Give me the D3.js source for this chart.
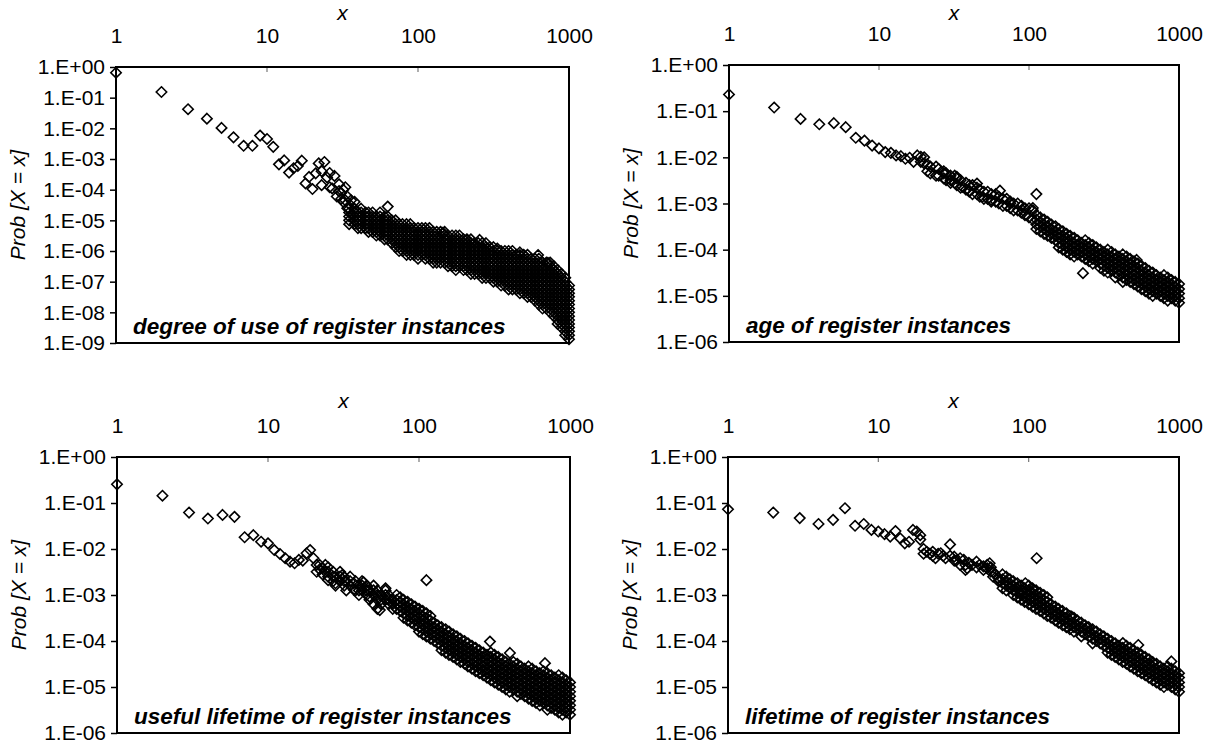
<!DOCTYPE html>
<html><head><meta charset="utf-8">
<script src="https://cdn.jsdelivr.net/npm/d3@7"></script>
<style>html,body{margin:0;padding:0;background:#fff;} svg{display:block;}</style>
</head><body>
<svg id="chart" width="1212" height="751"></svg>
<script>
// ---------- tick values / labels ----------
const xTickValues = [1, 10, 100, 1000];
const yTicksNine = [1, 1e-1, 1e-2, 1e-3, 1e-4, 1e-5, 1e-6, 1e-7, 1e-8, 1e-9];
const yTicksSix = [1, 1e-1, 1e-2, 1e-3, 1e-4, 1e-5, 1e-6];
const xAxisTitle = "x";
const yAxisTitle = "Prob [X = x]";
const panelLabels = [
  "degree of use of register instances",
  "age of register instances",
  "useful lifetime of register instances",
  "lifetime of register instances"
];

// ---------- series: [x, [Prob values observed at that x]] ----------
const degreeOfUse = [
[1,[0.65]],[2,[0.153]],[3,[0.042]],[4,[0.0207]],[5,[0.0103]],[6,[0.0051]],[7,[0.0027]],[8,[0.0027]],[9,[0.0058]],[10,[0.0045]],
[11,[0.0025]],[12,[6.7e-4]],[13,[9e-4]],[14,[3.6e-4]],[15,[5e-4]],[16,[5.9e-4]],[17,[8.8e-4]],[18,[1.6e-4]],[19,[2.6e-4]],[20,[1.05e-4]],
[21,[3.4e-4]],[22,[7.2e-4]],[23,[1.4e-4,4e-4]],[24,[8e-4]],[25,[2.5e-4]],[26,[3.5e-4,1.2e-4]],[27,[1.1e-4]],[28,[2.8e-4]],[29,[6e-5]],[30,[1.5e-4,9e-5]],
[31,[7.8e-5,5e-5]],[32,[4e-5,1e-4]],[33,[1.2e-4,4.5e-5]],[34,[2.5e-5,6e-5]],[36,[3e-5,4.5e-5]],[37,[1.5e-5]],[39,[2e-5]],
[35,[2.4e-5,1.8e-5,1.33e-5,1e-5,7.5e-6]],
[38,[4e-5,2.4e-5,1.8e-5,1.33e-5,1e-5,7.5e-6]],
[40,[1.8e-5,1.33e-5,1e-5,7.5e-6,5.6e-6]],
[42,[2.4e-5,1.8e-5,1.33e-5,1e-5,7.5e-6,5.6e-6]],
[45,[1.8e-5,1.33e-5,1e-5,7.5e-6,5.6e-6]],
[47,[1.8e-5,1.33e-5,1e-5,7.5e-6,5.6e-6,4.2e-6]],
[50,[1.8e-5,1.33e-5,1e-5,7.5e-6,5.6e-6,4.2e-6]],
[53,[1.33e-5,1e-5,7.5e-6,5.6e-6,4.2e-6,3.2e-6]],
[56,[1.8e-5,1.33e-5,1e-5,7.5e-6,5.6e-6,4.2e-6,3.2e-6]],
[60,[1.33e-5,1e-5,7.5e-6,5.6e-6,4.2e-6,3.2e-6,2.4e-6]],
[63,[2.8e-5,1.33e-5,1e-5,7.5e-6,5.6e-6,4.2e-6,3.2e-6,2.4e-6]],
[67,[1e-5,7.5e-6,5.6e-6,4.2e-6,3.2e-6,2.4e-6,1.8e-6]],
[71,[1e-5,7.5e-6,5.6e-6,4.2e-6,3.2e-6,2.4e-6,1.8e-6,1.33e-6]],
[75,[7.5e-6,5.6e-6,4.2e-6,3.2e-6,2.4e-6,1.8e-6,1.33e-6,1e-6]],
[79,[7.5e-6,5.6e-6,4.2e-6,3.2e-6,2.4e-6,1.8e-6,1.33e-6,1e-6]],
[84,[7.5e-6,5.6e-6,4.2e-6,3.2e-6,2.4e-6,1.8e-6,1.33e-6,1e-6,7.5e-7]],
[89,[7.5e-6,5.6e-6,4.2e-6,3.2e-6,2.4e-6,1.8e-6,1.33e-6,1e-6,7.5e-7]],
[94,[5.6e-6,4.2e-6,3.2e-6,2.4e-6,1.8e-6,1.33e-6,1e-6,7.5e-7]],
[100,[5.6e-6,4.2e-6,3.2e-6,2.4e-6,1.8e-6,1.33e-6,1e-6,7.5e-7,5.6e-7]],
[106,[5.6e-6,4.2e-6,3.2e-6,2.4e-6,1.8e-6,1.33e-6,1e-6,7.5e-7]],
[112,[5.6e-6,4.2e-6,3.2e-6,2.4e-6,1.8e-6,1.33e-6,1e-6,7.5e-7,5.6e-7]],
[119,[5.6e-6,4.2e-6,3.2e-6,2.4e-6,1.8e-6,1.33e-6,1e-6,7.5e-7,5.6e-7]],
[126,[4.2e-6,3.2e-6,2.4e-6,1.8e-6,1.33e-6,1e-6,7.5e-7,5.6e-7,4.2e-7]],
[133,[4.2e-6,3.2e-6,2.4e-6,1.8e-6,1.33e-6,1e-6,7.5e-7,5.6e-7,4.2e-7]],
[141,[4.2e-6,3.2e-6,2.4e-6,1.8e-6,1.33e-6,1e-6,7.5e-7,5.6e-7,4.2e-7]],
[146,[3.9e-6]],
[150,[4.2e-6,3.2e-6,2.4e-6,1.8e-6,1.33e-6,1e-6,7.5e-7,5.6e-7,4.2e-7]],
[158,[3.2e-6,2.4e-6,1.8e-6,1.33e-6,1e-6,7.5e-7,5.6e-7,4.2e-7,3.2e-7]],
[168,[3.2e-6,2.4e-6,1.8e-6,1.33e-6,1e-6,7.5e-7,5.6e-7,4.2e-7,3.2e-7]],
[178,[3.2e-6,2.4e-6,1.8e-6,1.33e-6,1e-6,7.5e-7,5.6e-7,4.2e-7,3.2e-7,2.4e-7]],
[188,[3.2e-6,2.4e-6,1.8e-6,1.33e-6,1e-6,7.5e-7,5.6e-7,4.2e-7,3.2e-7]],
[200,[2.4e-6,1.8e-6,1.33e-6,1e-6,7.5e-7,5.6e-7,4.2e-7,3.2e-7,2.4e-7]],
[210,[2.3e-6]],
[211,[2.4e-6,1.8e-6,1.33e-6,1e-6,7.5e-7,5.6e-7,4.2e-7,3.2e-7,2.4e-7]],
[224,[2.4e-6,1.8e-6,1.33e-6,1e-6,7.5e-7,5.6e-7,4.2e-7,3.2e-7,2.4e-7,1.8e-7]],
[237,[1.8e-6,1.33e-6,1e-6,7.5e-7,5.6e-7,4.2e-7,3.2e-7,2.4e-7,1.8e-7]],
[251,[1.8e-6,1.33e-6,1e-6,7.5e-7,5.6e-7,4.2e-7,3.2e-7,2.4e-7,1.8e-7]],
[256,[2.3e-6]],
[266,[1.8e-6,1.33e-6,1e-6,7.5e-7,5.6e-7,4.2e-7,3.2e-7,2.4e-7,1.8e-7,1.33e-7]],
[282,[1.8e-6,1.33e-6,1e-6,7.5e-7,5.6e-7,4.2e-7,3.2e-7,2.4e-7,1.8e-7,1.33e-7]],
[299,[1.33e-6,1e-6,7.5e-7,5.6e-7,4.2e-7,3.2e-7,2.4e-7,1.8e-7,1.33e-7]],
[316,[1.33e-6,1e-6,7.5e-7,5.6e-7,4.2e-7,3.2e-7,2.4e-7,1.8e-7,1.33e-7,1e-7]],
[335,[1.2e-6,1e-6,7.5e-7,5.6e-7,4.2e-7,3.2e-7,2.4e-7,1.8e-7,1.33e-7,1e-7]],
[355,[1e-6,7.5e-7,5.6e-7,4.2e-7,3.2e-7,2.4e-7,1.8e-7,1.33e-7,1e-7,7.5e-8]],
[376,[1e-6,7.5e-7,5.6e-7,4.2e-7,3.2e-7,2.4e-7,1.8e-7,1.33e-7,1e-7,7.5e-8]],
[398,[1e-6,7.5e-7,5.6e-7,4.2e-7,3.2e-7,2.4e-7,1.8e-7,1.33e-7,1e-7,7.5e-8,5.6e-8]],
[422,[1e-6,7.5e-7,5.6e-7,4.2e-7,3.2e-7,2.4e-7,1.8e-7,1.33e-7,1e-7,7.5e-8,5.6e-8]],
[447,[7.5e-7,5.6e-7,4.2e-7,3.2e-7,2.4e-7,1.8e-7,1.33e-7,1e-7,7.5e-8,5.6e-8]],
[473,[9e-7,7.4e-7,5.6e-7,4.2e-7,3.2e-7,2.4e-7,1.8e-7,1.33e-7,1e-7,7.5e-8,5.6e-8,4.2e-8]],
[501,[7.5e-7,5.6e-7,4.2e-7,3.2e-7,2.4e-7,1.8e-7,1.33e-7,1e-7,7.5e-8,5.6e-8,4.2e-8]],
[531,[7.5e-7,5.6e-7,4.2e-7,3.2e-7,2.4e-7,1.8e-7,1.33e-7,1e-7,7.5e-8,5.6e-8,4.2e-8,3.2e-8]],
[562,[5.6e-7,4.2e-7,3.2e-7,2.4e-7,1.8e-7,1.33e-7,1e-7,7.5e-8,5.6e-8,4.2e-8,3.2e-8]],
[596,[5.6e-7,4.2e-7,3.2e-7,2.4e-7,1.8e-7,1.33e-7,1e-7,7.5e-8,5.6e-8,4.2e-8,3.2e-8,2.4e-8]],
[624,[7.4e-7]],
[631,[5.6e-7,4.2e-7,3.2e-7,2.4e-7,1.8e-7,1.33e-7,1e-7,7.5e-8,5.6e-8,4.2e-8,3.2e-8,2.4e-8,1.8e-8]],
[668,[4.2e-7,3.2e-7,2.4e-7,1.8e-7,1.33e-7,1e-7,7.5e-8,5.6e-8,4.2e-8,3.2e-8,2.4e-8,1.8e-8,1.33e-8]],
[708,[4.2e-7,3.2e-7,2.4e-7,1.8e-7,1.33e-7,1e-7,7.5e-8,5.6e-8,4.2e-8,3.2e-8,2.4e-8,1.8e-8,1.33e-8]],
[724,[4.1e-7]],
[750,[4.2e-7,3.2e-7,2.4e-7,1.8e-7,1.33e-7,1e-7,7.5e-8,5.6e-8,4.2e-8,3.2e-8,2.4e-8,1.8e-8,1.33e-8,1e-8]],
[794,[3.2e-7,2.4e-7,1.8e-7,1.33e-7,1e-7,7.5e-8,5.6e-8,4.2e-8,3.2e-8,2.4e-8,1.8e-8,1.33e-8,1e-8,7.5e-9]],
[841,[2.4e-7,1.8e-7,1.33e-7,1e-7,7.5e-8,5.6e-8,4.2e-8,3.2e-8,2.4e-8,1.8e-8,1.33e-8,1e-8,7.5e-9,5.6e-9,4.2e-9]],
[891,[1.8e-7,1.33e-7,1e-7,7.5e-8,5.6e-8,4.2e-8,3.2e-8,2.4e-8,1.8e-8,1.33e-8,1e-8,7.5e-9,5.6e-9,4.2e-9,3.2e-9]],
[944,[1.33e-7,1e-7,7.5e-8,5.6e-8,4.2e-8,3.2e-8,2.4e-8,1.8e-8,1.33e-8,1e-8,7.5e-9,5.6e-9,4.2e-9,3.2e-9,2.4e-9,1.8e-9]],
[1000,[7.5e-8,5.6e-8,4.2e-8,3.2e-8,2.4e-8,1.8e-8,1.33e-8,1e-8,7.5e-9,5.6e-9,4.2e-9,3.2e-9,2.4e-9,1.8e-9,1.33e-9]]
];

const ageOfInstances = [
[1,[0.23]],[2,[0.12]],[3,[0.068]],[4,[0.052]],[5,[0.055]],[6,[0.045]],[7,[0.0265]],[8,[0.023]],[9,[0.018]],[10,[0.0156]],
[11,[0.013]],[12,[0.0125]],[13,[0.011]],[14,[0.0106]],[15,[0.0093]],[16,[0.0098]],[17,[0.008]],[18,[0.011]],[19,[0.008,0.0103]],
[20,[0.0074,0.01]],[21,[0.0071,0.005]],[22,[0.0045,0.0063]],[24,[0.0063,0.004]],[25,[0.0056,0.004]],[27,[0.005,0.0035,0.0045]],
[28,[0.0045,0.0032]],[30,[0.004,0.0028,0.0032]],[32,[0.004,0.0028]],[33,[0.0035,0.0025,0.0038]],[35,[0.0032,0.0022]],[36,[0.0023]],
[38,[0.0028,0.002]],[40,[0.0025,0.0018,0.0019]],[42,[0.0025,0.0016]],[45,[0.0022,0.0016,0.0027]],[47,[0.002,0.0014]],[49,[0.0014]],
[50,[0.0018,0.00126]],[53,[0.0018,0.00126]],[56,[0.0016,0.0011,0.0012]],[60,[0.0016,0.0011]],[63,[0.0014,0.001]],[64,[0.0019]],
[67,[0.00126,8.9e-4]],[71,[0.00126,8.9e-4]],[75,[0.0011,7.9e-4,0.001]],[79,[0.001,7.1e-4]],[84,[0.001,7.1e-4]],[89,[8.9e-4,6.3e-4]],
[91,[7.1e-4]],[94,[7.9e-4,5.6e-4]],[100,[7.9e-4,5e-4]],[106,[7.1e-4,4.5e-4,8e-4]],
[112,[0.0016,5.6e-4,4.5e-4,3.5e-4,2.8e-4]],
[119,[5e-4,4e-4,3.2e-4,2.5e-4]],
[126,[4.5e-4,3.5e-4,2.8e-4,2.2e-4]],
[131,[2.6e-4]],
[133,[4e-4,3.2e-4,2.5e-4,2e-4]],
[141,[3.5e-4,2.8e-4,2.2e-4,1.8e-4]],
[150,[3.2e-4,2.5e-4,2e-4,1.6e-4]],
[158,[2.8e-4,2.2e-4,1.8e-4,1.4e-4,1.12e-4]],
[168,[2.5e-4,2e-4,1.6e-4,1.26e-4,1e-4]],
[178,[2.2e-4,1.8e-4,1.4e-4,1.12e-4,8.9e-5]],
[188,[2e-4,1.6e-4,1.26e-4,1e-4,7.9e-5]],
[200,[1.8e-4,1.4e-4,1.12e-4,8.9e-5,7.1e-5]],
[211,[1.6e-4,1.26e-4,1e-4,7.9e-5]],
[224,[1.4e-4,1.12e-4,8.9e-5,7.1e-5]],
[229,[3.1e-5]],
[237,[1.6e-4,1.26e-4,1e-4,7.9e-5,6.3e-5]],
[251,[1.4e-4,1.12e-4,8.9e-5,7.1e-5,5.6e-5]],
[266,[1.26e-4,1e-4,7.9e-5,6.3e-5,5e-5]],
[282,[1.12e-4,8.9e-5,7.1e-5,5.6e-5]],
[299,[1e-4,7.9e-5,6.3e-5,5e-5,4e-5]],
[316,[8.9e-5,7.1e-5,5.6e-5,4.5e-5,3.5e-5]],
[335,[1e-4,7.9e-5,6.3e-5,5e-5,4e-5,3.2e-5]],
[355,[8.9e-5,7.1e-5,5.6e-5,4.5e-5,3.5e-5]],
[376,[7.9e-5,6.3e-5,5e-5,4e-5,3.2e-5,2.5e-5]],
[398,[7.1e-5,5.6e-5,4.5e-5,3.5e-5,2.8e-5]],
[422,[7.9e-5,6.3e-5,5e-5,4e-5,3.2e-5,2.5e-5,2e-5]],
[447,[7.1e-5,5.6e-5,4.5e-5,3.5e-5,2.8e-5,2.2e-5]],
[473,[6.3e-5,5e-5,4e-5,3.2e-5,2.5e-5,2e-5]],
[501,[5.6e-5,4.5e-5,3.5e-5,2.8e-5,2.2e-5,1.8e-5]],
[522,[6e-5]],
[531,[5e-5,4e-5,3.2e-5,2.5e-5,2e-5,1.6e-5]],
[562,[4.5e-5,3.5e-5,2.8e-5,2.2e-5,1.8e-5,1.4e-5]],
[596,[4e-5,3.2e-5,2.5e-5,2e-5,1.6e-5,1.26e-5]],
[631,[3.5e-5,2.8e-5,2.2e-5,1.8e-5,1.4e-5,1.12e-5]],
[668,[3.2e-5,2.5e-5,2e-5,1.6e-5,1.26e-5,1e-5]],
[708,[2.8e-5,2.2e-5,1.8e-5,1.4e-5,1.12e-5]],
[750,[2.5e-5,2e-5,1.6e-5,1.26e-5,1e-5]],
[794,[2.8e-5,2.2e-5,1.8e-5,1.4e-5,1.12e-5,8.9e-6]],
[841,[2.5e-5,2e-5,1.6e-5,1.26e-5,1e-5,7.9e-6]],
[891,[2.2e-5,1.8e-5,1.4e-5,1.12e-5,8.9e-6]],
[944,[2e-5,1.6e-5,1.26e-5,1e-5,7.9e-6]],
[1000,[1.8e-5,1.4e-5,1.12e-5,8.9e-6,7.1e-6]]
];

const usefulLifetime = [
[1,[0.255]],[2,[0.144]],[3,[0.062]],[4,[0.046]],[5,[0.055]],[6,[0.05]],[7,[0.018]],[8,[0.02]],[9,[0.0144]],[10,[0.0133]],
[11,[0.0095]],[12,[0.0078]],[13,[0.0063]],[14,[0.0053]],[15,[0.0049]],[16,[0.0058]],[17,[0.0056]],[18,[0.0081]],[19,[0.0095]],[20,[0.0063]],
[21,[0.0032,0.0045]],[22,[0.0045,0.0036]],[23,[0.0038,0.0028]],[24,[0.0045,0.0032]],
[25,[0.004,0.0025,0.0021,0.0032]],[27,[0.0032,0.002,0.0025]],[28,[0.0025,0.0016,0.0018]],[30,[0.0032,0.002,0.0025]],[31,[0.0027]],
[32,[0.0025,0.0016,0.002]],[33,[0.002,0.00126]],[35,[0.0025,0.0016,0.002]],[37,[0.0013,0.0018]],[38,[0.002,0.00126]],
[40,[0.0016,0.001,0.00126]],[42,[0.002,0.00126,0.0016]],[43,[0.0019]],[45,[0.0016,0.001,0.00126]],[47,[0.00126,7.9e-4,9.2e-4]],
[50,[0.0016,0.001,6.3e-4,0.00126]],[53,[0.00126,7.9e-4,5e-4,0.001]],[55,[4.7e-4]],[56,[0.001,6.3e-4,7.9e-4]],
[60,[0.00126,7.9e-4,0.0014,0.001]],[63,[0.001,6.3e-4,7.9e-4]],[67,[7.9e-4,5e-4,6.3e-4]],[71,[0.001,6.3e-4,7.8e-4,5e-4]],
[75,[8.9e-4,7.1e-4,5.6e-4,4.5e-4]],
[79,[7.9e-4,6.3e-4,5e-4,4e-4,3.2e-4]],
[84,[7.1e-4,5.6e-4,4.5e-4,3.5e-4,2.8e-4]],
[89,[6.3e-4,5e-4,4e-4,3.2e-4,2.5e-4]],
[94,[5.6e-4,4.5e-4,3.5e-4,2.8e-4,2.2e-4]],
[100,[5e-4,4e-4,3.2e-4,2.5e-4,2e-4,1.6e-4]],
[106,[4.5e-4,3.5e-4,2.8e-4,2.2e-4,1.8e-4,1.4e-4]],
[112,[0.0021,4e-4,3.2e-4,2.5e-4,2e-4,1.6e-4,1.26e-4]],
[119,[3.5e-4,2.8e-4,2.2e-4,1.8e-4,1.4e-4,1.12e-4]],
[126,[2.5e-4,2e-4,1.6e-4,1.26e-4,1e-4]],
[133,[2.2e-4,1.8e-4,1.4e-4,1.12e-4,8.9e-5]],
[141,[2e-4,1.6e-4,1.26e-4,1e-4,7.9e-5,6.3e-5]],
[150,[1.8e-4,1.4e-4,1.12e-4,8.9e-5,7.1e-5,5.6e-5]],
[158,[1.6e-4,1.26e-4,1e-4,7.9e-5,6.3e-5,5e-5]],
[168,[1.4e-4,1.12e-4,8.9e-5,7.1e-5,5.6e-5,4.5e-5]],
[178,[1.26e-4,1e-4,7.9e-5,6.3e-5,5e-5,4e-5]],
[188,[1.12e-4,8.9e-5,7.1e-5,5.6e-5,4.5e-5,3.5e-5]],
[200,[1e-4,7.9e-5,6.3e-5,5e-5,4e-5,3.2e-5]],
[211,[8.9e-5,7.1e-5,5.6e-5,4.5e-5,3.5e-5,2.8e-5]],
[224,[7.9e-5,6.3e-5,5e-5,4e-5,3.2e-5,2.5e-5]],
[237,[7.1e-5,5.6e-5,4.5e-5,3.5e-5,2.8e-5,2.2e-5]],
[251,[6.3e-5,5e-5,4e-5,3.2e-5,2.5e-5,2e-5]],
[266,[5.6e-5,4.5e-5,3.5e-5,2.8e-5,2.2e-5,1.8e-5]],
[282,[5e-5,4e-5,3.2e-5,2.5e-5,2e-5,1.6e-5]],
[295,[9.7e-5]],
[299,[5.6e-5,4.5e-5,3.5e-5,2.8e-5,2.2e-5,1.8e-5,1.4e-5]],
[316,[5e-5,4e-5,3.2e-5,2.5e-5,2e-5,1.6e-5,1.26e-5]],
[335,[4.5e-5,3.5e-5,2.8e-5,2.2e-5,1.8e-5,1.4e-5,1.12e-5]],
[355,[4e-5,3.2e-5,2.5e-5,2e-5,1.6e-5,1.26e-5,1e-5]],
[376,[3.5e-5,2.8e-5,2.2e-5,1.8e-5,1.4e-5,1.12e-5,8.9e-6]],
[398,[3.2e-5,2.5e-5,2e-5,1.6e-5,1.26e-5,1e-5,7.9e-6]],
[400,[5.5e-5]],
[422,[3.5e-5,2.8e-5,2.2e-5,1.8e-5,1.4e-5,1.12e-5,8.9e-6]],
[447,[3.2e-5,2.5e-5,2e-5,1.6e-5,1.26e-5,1e-5,7.9e-6,6.3e-6]],
[473,[2.8e-5,2.2e-5,1.8e-5,1.4e-5,1.12e-5,8.9e-6,7.1e-6]],
[501,[2.5e-5,2e-5,1.6e-5,1.26e-5,1e-5,7.9e-6,6.3e-6]],
[531,[2.8e-5,2.2e-5,1.8e-5,1.4e-5,1.12e-5,8.9e-6,7.1e-6,5.6e-6]],
[562,[2.5e-5,2e-5,1.6e-5,1.26e-5,1e-5,7.9e-6,6.3e-6,5e-6]],
[596,[2.2e-5,1.8e-5,1.4e-5,1.12e-5,8.9e-6,7.1e-6,5.6e-6,4.5e-6]],
[631,[2e-5,1.6e-5,1.26e-5,1e-5,7.9e-6,6.3e-6,5e-6,4e-6]],
[668,[2.2e-5,1.8e-5,1.4e-5,1.12e-5,8.9e-6,7.1e-6,5.6e-6,4.5e-6]],
[683,[3.3e-5]],
[708,[2e-5,1.6e-5,1.26e-5,1e-5,7.9e-6,6.3e-6,5e-6,4e-6,3.2e-6]],
[750,[1.8e-5,1.4e-5,1.12e-5,8.9e-6,7.1e-6,5.6e-6,4.5e-6,3.5e-6]],
[794,[1.6e-5,1.26e-5,1e-5,7.9e-6,6.3e-6,5e-6,4e-6,3.2e-6]],
[841,[1.8e-5,1.4e-5,1.12e-5,8.9e-6,7.1e-6,5.6e-6,4.5e-6,3.5e-6,2.8e-6]],
[891,[1.6e-5,1.26e-5,1e-5,7.9e-6,6.3e-6,5e-6,4e-6,3.2e-6,2.5e-6]],
[944,[1.4e-5,1.12e-5,8.9e-6,7.1e-6,5.6e-6,4.5e-6,3.5e-6,2.8e-6]],
[1000,[1.26e-5,1e-5,7.9e-6,6.3e-6,5e-6,4e-6,3.2e-6,2.5e-6]]
];

const lifetimeOfInstances = [
[1,[0.073]],[2,[0.062]],[3,[0.047]],[4,[0.035]],[5,[0.043]],[6,[0.077]],[7,[0.032]],[8,[0.035]],[9,[0.026]],[10,[0.024]],
[11,[0.021]],[12,[0.0186]],[13,[0.0246]],[14,[0.017]],[15,[0.0133]],[16,[0.0144]],[17,[0.026]],[18,[0.024]],[19,[0.016,0.02]],
[20,[0.01,0.0079]],[21,[0.0087]],[22,[0.0079]],[23,[0.0087,0.0071]],[24,[0.0063]],[25,[0.0079]],[26,[0.0081]],[27,[0.0071]],
[28,[0.0063]],[30,[0.0126,0.0071]],[32,[0.0068,0.0056]],[33,[0.0056]],[35,[0.0063,0.0045]],[37,[0.0058]],[38,[0.0045,0.0035]],
[39,[0.0038]],[40,[0.005]],[42,[0.0045]],[45,[0.0053,0.004]],[47,[0.0045]],[50,[0.0042,0.0035]],[53,[0.0045,0.0038]],[55,[0.0049]],
[56,[0.004,0.0032]],[58,[0.0025,0.0032]],[60,[0.0028]],[63,[0.0023,0.002]],[64,[0.0021]],
[67,[0.0028,0.0022,0.0018,0.0014]],
[71,[0.0025,0.002,0.0016,0.00126]],
[75,[0.0022,0.0018,0.0014,0.0015]],
[79,[0.002,0.0016,0.00126,0.001]],
[84,[0.0018,0.0014,0.00112,8.9e-4]],
[88,[0.0011]],
[89,[0.0016,0.00126,0.001,7.9e-4]],
[94,[0.0014,0.00112,8.9e-4,7.1e-4]],
[95,[0.0018]],
[100,[0.0016,0.00126,0.001,7.9e-4,6.3e-4]],
[106,[0.0014,0.00112,8.9e-4,7.1e-4,5.6e-4]],
[107,[0.0013]],
[112,[0.00126,0.001,7.9e-4,6.3e-4,5e-4]],
[113,[0.0063]],
[119,[0.00112,8.9e-4,7.1e-4,5.6e-4,4.5e-4]],
[126,[0.001,7.9e-4,6.3e-4,5e-4,4e-4]],
[133,[8.9e-4,7.1e-4,5.6e-4,4.5e-4,3.5e-4]],
[141,[6.3e-4,5e-4,4e-4,3.2e-4]],
[150,[5.6e-4,4.5e-4,3.5e-4,2.8e-4]],
[154,[4e-4]],
[158,[5e-4,4e-4,3.2e-4,2.5e-4]],
[168,[4.5e-4,3.5e-4,2.8e-4,2.2e-4]],
[178,[4e-4,3.2e-4,2.5e-4,2e-4]],
[188,[3.5e-4,2.8e-4,2.2e-4,1.8e-4]],
[193,[3.4e-4]],
[200,[3.2e-4,2.5e-4,2e-4,1.6e-4]],
[211,[2.8e-4,2.2e-4,1.8e-4]],
[224,[2.5e-4,2e-4,1.6e-4,1.26e-4]],
[237,[2.2e-4,1.8e-4,1.4e-4]],
[244,[2e-4]],
[251,[2e-4,1.6e-4,1.26e-4]],
[266,[1.8e-4,1.4e-4,1.12e-4,8.9e-5]],
[282,[1.6e-4,1.26e-4,1e-4]],
[299,[1.4e-4,1.12e-4,8.9e-5]],
[316,[1.26e-4,1e-4,7.9e-5]],
[335,[1.12e-4,8.9e-5,7.1e-5,5.6e-5]],
[355,[1e-4,7.9e-5,6.3e-5,5e-5]],
[376,[8.9e-5,7.1e-5,5.6e-5,4.5e-5]],
[398,[7.9e-5,6.3e-5,5e-5,4e-5]],
[422,[7.1e-5,5.6e-5,4.5e-5,3.5e-5]],
[423,[9e-5]],
[447,[7.9e-5,6.3e-5,5e-5,4e-5,3.2e-5]],
[473,[7.1e-5,5.6e-5,4.5e-5,3.5e-5,2.8e-5]],
[501,[6.3e-5,5e-5,4e-5,3.2e-5,2.5e-5]],
[531,[5.6e-5,4.5e-5,3.5e-5,2.8e-5,2.2e-5]],
[536,[8.2e-5]],
[562,[5e-5,4e-5,3.2e-5,2.5e-5,2e-5]],
[596,[4.5e-5,3.5e-5,2.8e-5,2.2e-5,1.8e-5]],
[631,[4e-5,3.2e-5,2.5e-5,2e-5,1.6e-5]],
[668,[3.5e-5,2.8e-5,2.2e-5,1.8e-5,1.4e-5]],
[674,[3.3e-5]],
[708,[3.2e-5,2.5e-5,2e-5,1.6e-5,1.26e-5]],
[750,[2.8e-5,2.2e-5,1.8e-5,1.4e-5,1.12e-5]],
[794,[2.5e-5,2e-5,1.6e-5,1.26e-5,1e-5]],
[841,[2.8e-5,2.2e-5,1.8e-5,1.4e-5,1.12e-5]],
[890,[3.6e-5]],
[891,[2.5e-5,2e-5,1.6e-5,1.26e-5,1e-5]],
[944,[2.2e-5,1.8e-5,1.4e-5,1.12e-5,8.9e-6]],
[1000,[2e-5,1.6e-5,1.26e-5,1e-5,7.9e-6]]
];

// ---------- layout ----------
const FONT = "'Liberation Sans', Arial, Helvetica, sans-serif";
const panels = [
  {series: degreeOfUse, yTicks: yTicksNine, label: panelLabels[0], left:116, right:569, top:67, bottom:343, titleY:19.5},
  {series: ageOfInstances, yTicks: yTicksSix, label: panelLabels[1], left:729, right:1179, top:65, bottom:342, titleY:19.5},
  {series: usefulLifetime, yTicks: yTicksSix, label: panelLabels[2], left:117, right:570, top:457, bottom:733, titleY:408},
  {series: lifetimeOfInstances, yTicks: yTicksSix, label: panelLabels[3], left:728, right:1179, top:457, bottom:733, titleY:408}
];

const svg = d3.select("#chart");
svg.append("rect").attr("width",1212).attr("height",751).attr("fill","#fff");

function fmtE(v){
  const e = Math.round(Math.log10(v));
  return "1.E" + (e >= 0 ? "+" : "-") + String(Math.abs(e)).padStart(2,"0");
}
const R = 5.2;
const diamond = `M0,${-R}L${R},0L0,${R}L${-R},0Z`;

panels.forEach(p => {
  const x = d3.scaleLog().domain([1,1000]).range([p.left, p.right]);
  const y = d3.scaleLog().domain([d3.min(p.yTicks), 1]).range([p.bottom, p.top]);
  const g = svg.append("g");

  // y axis
  const ya = g.append("g").attr("transform",`translate(${p.left},0)`)
    .call(d3.axisLeft(y).tickValues(p.yTicks).tickFormat(fmtE).tickSize(6).tickSizeOuter(0).tickPadding(5));
  ya.select(".domain").remove();
  ya.selectAll(".tick line").attr("stroke","#000").attr("stroke-width",1.5);
  ya.selectAll(".tick text").attr("font-family",FONT).attr("font-size",21).attr("fill","#000");

  // x axis on top
  const xa = g.append("g").attr("transform",`translate(0,${p.top})`)
    .call(d3.axisTop(x).tickValues(xTickValues).tickFormat(d3.format("d")).tickSize(0).tickSizeOuter(0).tickPadding(24));
  xa.select(".domain").remove();
  xa.selectAll(".tick text").attr("font-family",FONT).attr("font-size",21).attr("fill","#000");
  g.selectAll(".innertick").data(xTickValues.slice(1,-1)).join("line")
    .attr("x1",d=>x(d)).attr("x2",d=>x(d)).attr("y1",p.top).attr("y2",p.top+5)
    .attr("stroke","#777").attr("stroke-width",1.2);

  // frame
  g.append("rect").attr("x",p.left).attr("y",p.top).attr("width",p.right-p.left).attr("height",p.bottom-p.top)
    .attr("fill","none").attr("stroke","#000").attr("stroke-width",2);

  // titles
  g.append("text").attr("x",(p.left+p.right)/2).attr("y",p.titleY).attr("text-anchor","middle")
    .attr("font-family",FONT).attr("font-size",21).attr("font-style","italic").text(xAxisTitle);
  g.append("text").attr("transform",`translate(${p.left-91},${(p.top+p.bottom)/2}) rotate(-90)`)
    .attr("text-anchor","middle").attr("font-family",FONT).attr("font-size",21).attr("font-style","italic").text(yAxisTitle);

  // points
  const pts = [];
  p.series.forEach(([xv, ys]) => ys.forEach(yv => pts.push([xv, yv])));
  g.append("g").selectAll("path").data(pts).join("path")
    .attr("d",diamond).attr("transform",d=>`translate(${x(d[0])},${y(d[1])})`)
    .attr("fill","none").attr("stroke","#000").attr("stroke-width",1.6);

  // panel label
  g.append("text").attr("x",p.left+17).attr("y",p.bottom-9)
    .attr("font-family",FONT).attr("font-size",22.5).attr("font-weight","bold").attr("font-style","italic")
    .attr("fill","#000").text(p.label);
});
</script>
</body></html>
